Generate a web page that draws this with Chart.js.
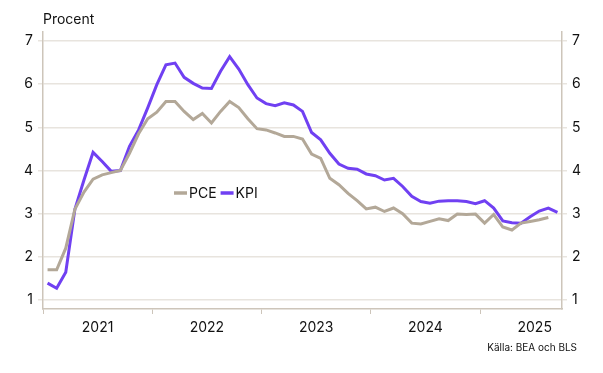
<!DOCTYPE html>
<html>
<head>
<meta charset="utf-8">
<script src="https://cdn.jsdelivr.net/npm/chart.js@4"></script>
<style>
  html, body { margin: 0; padding: 0; background: #fff; }
  #wrap { width: 603px; height: 373px; position: relative; }
</style>
</head>
<body>
<div id="wrap"><canvas id="c"></canvas></div>
<script>
// monthly, jan 2021 - sep 2025
const months = [];
for (let y = 2021; y <= 2025; y++) {
  for (let m = 1; m <= 12; m++) {
    if (y === 2025 && m > 9) break;
    months.push(y + "-" + String(m).padStart(2, "0"));
  }
}
const years = ["2021", "2022", "2023", "2024", "2025"];
const yTicks = [1, 2, 3, 4, 5, 6, 7];

const pce = [
  1.7, 1.7, 2.2, 3.1, 3.5, 3.8, 3.9, 3.95, 4.0, 4.4, 4.85, 5.2,
  5.35, 5.6, 5.6, 5.37, 5.18, 5.32, 5.1, 5.37, 5.6, 5.46, 5.2, 4.97,
  4.94, 4.87, 4.79, 4.79, 4.73, 4.38, 4.28, 3.82, 3.67, 3.47, 3.3, 3.11,
  3.15, 3.05, 3.13, 3.0, 2.78, 2.76, 2.82, 2.88, 2.84, 2.99, 2.98, 2.99,
  2.78, 2.98, 2.69, 2.62, 2.78, 2.82, 2.86, 2.91
];
const kpi = [
  1.39, 1.27, 1.64, 3.1, 3.78, 4.42, 4.21, 3.98, 4.0, 4.56, 4.94, 5.45,
  5.99, 6.45, 6.49, 6.16, 6.02, 5.91, 5.9, 6.3, 6.64, 6.35, 5.99, 5.68,
  5.55, 5.5, 5.57, 5.52, 5.37, 4.88, 4.71, 4.4, 4.15, 4.05, 4.03, 3.92,
  3.88, 3.78, 3.82, 3.63, 3.4, 3.28, 3.24, 3.29, 3.3, 3.3, 3.28, 3.23,
  3.3, 3.13, 2.83, 2.79, 2.78, 2.93, 3.06, 3.13, 3.03
];

const PCE_COL = "#b3a898";
const KPI_COL = "#7040f2";
const GRID = "#e8e4de";
const AXIS = "#cdc5ba";
const FONT = "Inter, 'Noto Sans', sans-serif";

const toPts = (arr) => arr.map((v, i) => ({ x: i, y: v }));

// year boundaries get tick marks, mid-year gets the label
const xTickVals = [];
years.forEach((yr, k) => {
  xTickVals.push(k * 12 - 0.5);
  xTickVals.push(k * 12 + 5.5);
});

const extras = {
  id: "extras",
  afterDraw(chart) {
    const ctx = chart.ctx;
    const a = chart.chartArea;
    ctx.save();
    ctx.fillStyle = "#111";
    ctx.font = "14px " + FONT;
    ctx.textBaseline = "alphabetic";
    ctx.textAlign = "left";
    ctx.fillText("Procent", a.left, a.top - 8);

    ctx.font = "10px " + FONT;
    ctx.textAlign = "right";
    ctx.fillText("Källa: BEA och BLS", 577, 351);

    // legend inside the plot
    let x = a.left + 131;
    const y = a.top + 161;
    ctx.font = "14px " + FONT;
    ctx.textAlign = "left";
    ctx.textBaseline = "middle";
    chart.data.datasets.forEach((ds) => {
      ctx.strokeStyle = ds.borderColor;
      ctx.lineWidth = 3.5;
      ctx.beginPath();
      ctx.moveTo(x, y);
      ctx.lineTo(x + 13, y);
      ctx.stroke();
      x += 15;
      ctx.fillText(ds.label, x, y + 1);
      x += ctx.measureText(ds.label).width + 4;
    });
    ctx.restore();
  }
};

const yAxis = (pos) => ({
  type: "linear",
  position: pos,
  min: 0.79,
  max: 7.21,
  afterBuildTicks: (s) => { s.ticks = yTicks.map((v) => ({ value: v })); },
  afterFit: (s) => { s.width = pos === "left" ? 43 : 41; },
  border: { color: AXIS, width: 1.5 },
  grid: {
    color: GRID,
    lineWidth: 1.5,
    drawOnChartArea: pos === "left",
    tickLength: 5,
    tickColor: GRID
  },
  ticks: {
    color: "#111",
    padding: 5,
    font: { family: FONT, size: 14 }
  }
});

new Chart(document.getElementById("c"), {
  type: "line",
  data: {
    datasets: [
      { label: "PCE", data: toPts(pce), borderColor: PCE_COL, borderWidth: 3, pointRadius: 0, tension: 0, yAxisID: "y" },
      { label: "KPI", data: toPts(kpi), borderColor: KPI_COL, borderWidth: 3, pointRadius: 0, tension: 0, yAxisID: "y" }
    ]
  },
  options: {
    responsive: true,
    maintainAspectRatio: false,
    animation: false,
    layout: { padding: { top: 32, left: 0, right: 0, bottom: 0 } },
    plugins: { legend: { display: false }, tooltip: { enabled: false } },
    scales: {
      x: {
        type: "linear",
        min: -0.5,
        max: months.length - 0.5,
        afterBuildTicks: (s) => { s.ticks = xTickVals.map((v) => ({ value: v })); },
        afterFit: (s) => { s.height = 64; },
        border: { color: AXIS, width: 1.5 },
        grid: {
          drawOnChartArea: false,
          tickLength: 5,
          tickColor: (c) => (c.tick && Number.isInteger(c.tick.value + 0.5) && (c.tick.value + 0.5) % 12 === 0 ? AXIS : "rgba(0,0,0,0)")
        },
        ticks: {
          color: "#111",
          padding: 5,
          maxRotation: 0,
          autoSkip: false,
          font: { family: FONT, size: 14 },
          callback: (v) => {
            const k = (v - 5.5) / 12;
            return Number.isInteger(k) ? years[k] : "";
          }
        }
      },
      y: yAxis("left"),
      y2: yAxis("right")
    }
  },
  plugins: [extras]
});
</script>
</body>
</html>
